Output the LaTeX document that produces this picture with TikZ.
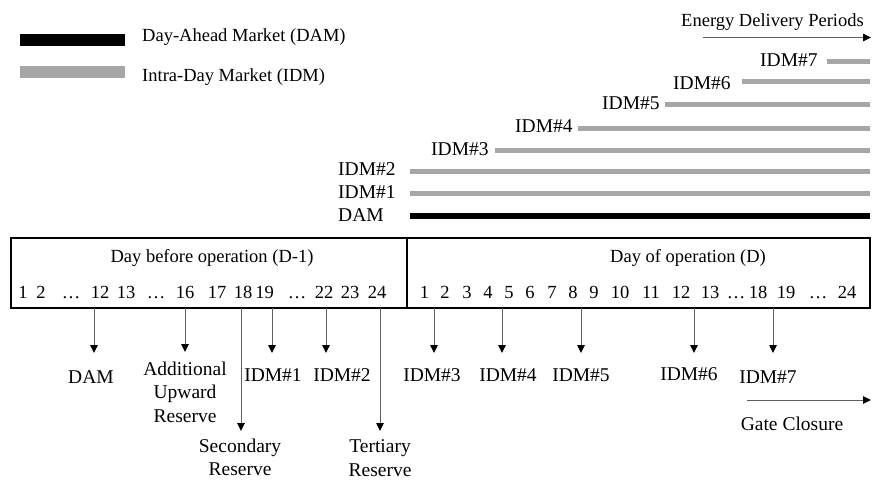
\documentclass[tikz,border=0pt]{standalone}
\usepackage{fontspec}
\setmainfont{Liberation Serif}
\usetikzlibrary{arrows.meta}
\definecolor{barg}{RGB}{166,166,166}
\definecolor{tickg}{RGB}{95,95,95}
\begin{document}
\begin{tikzpicture}[x=1pt,y=-1pt,
  txt/.style={inner sep=0pt,font=\fontsize{18.5}{24}\selectfont},
  lbl/.style={inner sep=0pt,font=\fontsize{19.5}{24}\selectfont},
  blbl/.style={inner sep=0pt,align=center,font=\fontsize{19.5}{23.5}\selectfont},
  idmbar/.style={line width=5pt,draw=barg},
  dambar/.style={line width=6.5pt,draw=black},
  tick/.style={draw=tickg,line width=0.9pt,-{Triangle[length=8pt,width=7.5pt,color=black]}},
  boxline/.style={draw=black,line width=1.3pt}
]
\useasboundingbox (0,0) rectangle (872,480);

% legend
\fill[black] (20,34) rectangle (125,46);
\fill[barg] (20,66) rectangle (125,78);
\node[txt,anchor=base west] (legdam) at (142,41.7) {Day-Ahead Market (DAM)};
\node[txt,anchor=base west] (legidm) at (142,81.7) {Intra-Day Market (IDM)};

% energy delivery periods
\node[txt,anchor=base east] (edp) at (864,26.7) {Energy Delivery Periods};
\coordinate (ea) at (703,37.5);
\coordinate (eb) at (871,37.5);
\draw[tick] (ea) -- (eb);

% market bars
\node[lbl,anchor=base west] (b7) at (760,66) {IDM\#7};
\node[lbl,anchor=base west] (b6) at (673,89) {IDM\#6};
\node[lbl,anchor=base west] (b5) at (602,109.3) {IDM\#5};
\node[lbl,anchor=base west] (b4) at (515,132.7) {IDM\#4};
\node[lbl,anchor=base west] (b3) at (431,155) {IDM\#3};
\node[lbl,anchor=base west] (b2) at (338,175) {IDM\#2};
\node[lbl,anchor=base west] (b1) at (338,198.3) {IDM\#1};
\node[lbl,anchor=base west] (b0) at (338,221.7) {DAM};
\foreach \i/\xs/\y in {7/827/61,6/742/81.7,5/665/104,4/578/128.3,3/495/150.7,2/410/171,1/410/193.3}{
  \coordinate (s\i) at (\xs,\y);
  \coordinate (e\i) at (870,\y);
  \draw[idmbar] (s\i) -- (e\i);
}
\coordinate (s0) at (410,216);
\coordinate (e0) at (870,216);
\draw[dambar] (s0) -- (e0);

% timeline box
\draw[boxline] (11,238) rectangle (870,308);
\draw[boxline] (407,238) -- (407,308);
\node[txt,anchor=base] (dm1) at (212,262) {Day before operation (D-1)};
\node[txt,anchor=base] (d0) at (688,262) {Day of operation (D)};
\foreach \x/\t [count=\k] in {23/1,41/2,71/…,100/12,126/13,156/…,185/16,217/17,243/18,264.5/19,297/…,324/22,350/23,377/24,
  424.5/1,445/2,467/3,488/4,509/5,530/6,552/7,573/8,594/9,620/10,651/11,681/12,710/13,736/…,758/18,786/19,818/…,847/24}{
  \node[txt,anchor=base] (h\k) at (\x,298) {\t};
}

% bottom labels
\node[lbl,anchor=base] (ldam) at (91,383) {DAM};
\node[blbl,anchor=north] (ladd) at (185,361.7) {Additional\\Upward\\Reserve};
\node[blbl,anchor=north] (lsec) at (240,438.5) {Secondary\\Reserve};
\node[lbl,anchor=base] (li1) at (273,381.7) {IDM\#1};
\node[lbl,anchor=base] (li2) at (342,381.7) {IDM\#2};
\node[blbl,anchor=north] (lter) at (380,439.5) {Tertiary\\Reserve};
\node[lbl,anchor=base] (li3) at (432,381.7) {IDM\#3};
\node[lbl,anchor=base] (li4) at (508,381.7) {IDM\#4};
\node[lbl,anchor=base] (li5) at (581,381.7) {IDM\#5};
\node[lbl,anchor=base] (li6) at (689,380) {IDM\#6};
\node[lbl,anchor=base] (li7) at (768,383.3) {IDM\#7};
\node[lbl,anchor=base] (lgc) at (792,430) {Gate Closure};
\coordinate (ga) at (747,400);
\coordinate (gb) at (871,400);
\draw[tick] (ga) -- (gb);

% arrows from timeline
\foreach \x/\tip [count=\k] in {94/353,185/352,241/431,272/353,326/353,380/431,434/353,502/353,581/353,694/353,773/353}{
  \coordinate (ta\k) at (\x,308);
  \coordinate (tb\k) at (\x,\tip);
  \draw[tick] (ta\k) -- (tb\k);
}
\end{tikzpicture}
\end{document}
